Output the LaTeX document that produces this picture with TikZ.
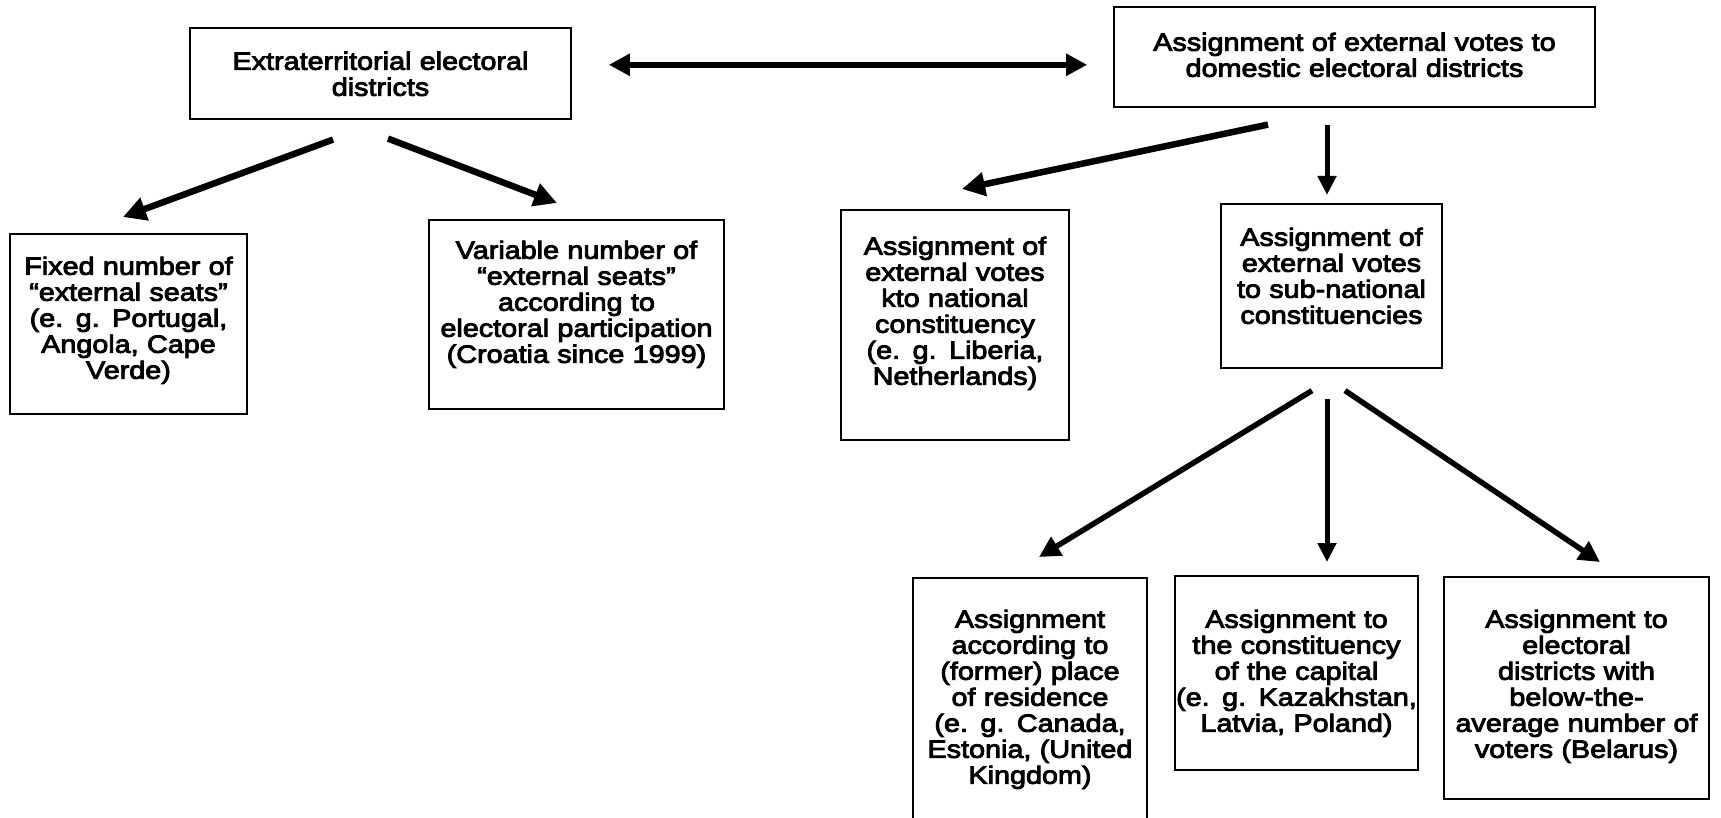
\documentclass[tikz,border=0pt]{standalone}
\usepackage{fontspec}
\setmainfont{Liberation Sans}[FakeStretch=1.15,FakeBold=3.5,WordSpace=1.9]
\usetikzlibrary{arrows.meta}
\newcommand\boxfont{\fontsize{25}{26}\selectfont}
\begin{document}
\begin{tikzpicture}[x=1pt,y=-1pt,
  boxnode/.style={draw, line width=1.6pt, anchor=north, align=center,
    inner ysep=0pt, inner xsep=-10pt, font=\boxfont},
  bigarrow/.style={line width=6.5pt, -{Triangle[length=23pt,width=23pt]}},
  midarrow/.style={line width=5.5pt, -{Triangle[length=21pt,width=21pt]}},
  vertarrow/.style={line width=5pt, -{Triangle[length=19pt,width=18pt]}},
  dblarrow/.style={line width=6pt, {Triangle[length=21pt,width=21pt]}-{Triangle[length=21pt,width=21pt]}}]
\useasboundingbox (0,0) rectangle (1721,818);
\clip (0,0) rectangle (1721,818);

\node[boxnode, text width=401pt, text height=42pt, text depth=49pt] (A) at (380.5,27)
  {Extraterritorial electoral\\districts};
\node[boxnode, text width=501pt, text height=44pt, text depth=56pt] (B) at (1354.5,6)
  {Assignment of external votes to\\domestic electoral districts};
\node[boxnode, text width=257pt, text height=41pt, text depth=139pt] (fixed) at (128.5,233)
  {Fixed number of\\“external seats”\\(e. g. Portugal,\\Angola, Cape\\Verde)};
\node[boxnode, text width=315pt, text height=39pt, text depth=150pt] (var) at (576.5,219)
  {Variable number of\\“external seats”\\according to\\electoral participation\\(Croatia since 1999)};
\node[boxnode, text width=248pt, text height=45pt, text depth=185pt] (kto) at (955,209)
  {Assignment of\\external votes\\kto national\\constituency\\(e. g. Liberia,\\Netherlands)};
\node[boxnode, text width=241pt, text height=42pt, text depth=122pt] (sub) at (1331.5,203)
  {Assignment of\\external votes\\to sub-national\\constituencies};
\node[boxnode, text width=254pt, text height=50pt, text depth=203pt] (canada) at (1030,577)
  {Assignment\\according to\\(former) place\\of residence\\(e. g. Canada,\\Estonia, (United\\Kingdom)};
\node[boxnode, text width=263pt, text height=52pt, text depth=142pt] (capital) at (1296.5,575)
  {Assignment to\\the constituency\\of the capital\\(e. g. Kazakhstan,\\Latvia, Poland)};
\node[boxnode, text width=285pt, text height=51pt, text depth=171pt] (belarus) at (1576.5,576)
  {Assignment to\\electoral\\districts with\\below-the-\\average number of\\voters (Belarus)};

\draw[dblarrow] ([shift={(37,-8.5)}]A.east) -- ([shift={(-26,8)}]B.west);
\draw[bigarrow] ([shift={(-47.5,20)}]A.south) -- ([shift={(-5.5,-16)}]fixed.north);
\draw[bigarrow] ([shift={(7.5,19)}]A.south) -- ([shift={(-19.5,-16)}]var.north);
\draw[bigarrow] ([shift={(-86.5,17)}]B.south) -- ([shift={(7,-20)}]kto.north);
\draw[vertarrow] ([shift={(-27.5,17)}]B.south) -- ([shift={(-4.5,-8)}]sub.north);
\draw[midarrow] ([shift={(-19.5,22)}]sub.south) -- ([shift={(9,-20)}]canada.north);
\draw[vertarrow] ([shift={(-4.5,30)}]sub.south) -- ([shift={(30.5,-13)}]capital.north);
\draw[midarrow] ([shift={(13.5,22)}]sub.south) -- ([shift={(23.5,-14)}]belarus.north);
\end{tikzpicture}
\end{document}
